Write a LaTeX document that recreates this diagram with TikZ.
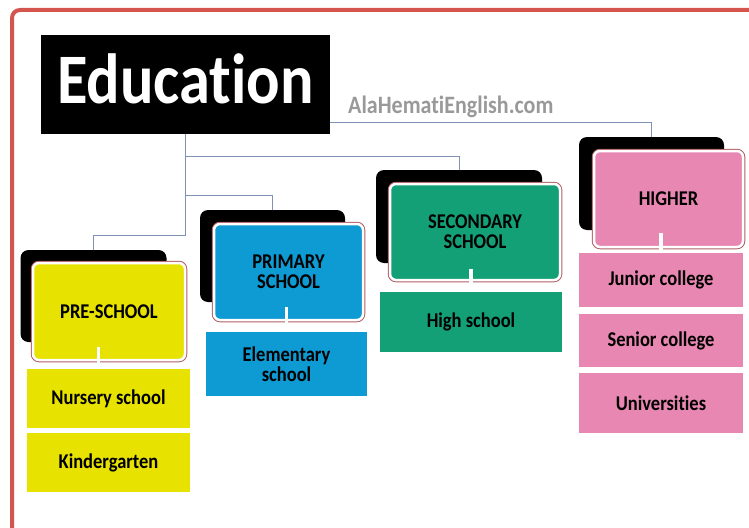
\documentclass[tikz,border=0pt]{standalone}
\usepackage{fontspec}
\setmainfont{Carlito}[FakeStretch=0.88, Ligatures=CommonOff]
\usetikzlibrary{backgrounds}
\definecolor{preyellow}{RGB}{232,226,0}
\definecolor{primblue}{RGB}{14,154,211}
\definecolor{secgreen}{RGB}{20,160,119}
\definecolor{higpink}{RGB}{232,135,177}
\definecolor{linkgray}{RGB}{128,146,180}
\definecolor{framered}{RGB}{212,84,78}
\definecolor{rimred}{RGB}{175,95,100}
\tikzset{
    back/.style={fill=black, rounded corners=8pt, inner sep=0pt},
    front/.style={rounded corners=6pt, draw=white, line width=2.5pt,
        preaction={draw=rimred, line width=4.5pt},
        font=\bfseries\fontsize{21}{20}\selectfont, align=center, inner sep=0pt},
    sub/.style={inner sep=0pt, font=\bfseries\fontsize{21}{20}\selectfont, align=center},
    link/.style={draw=linkgray, line width=0.8pt},
    stub/.style={draw=white, line width=3.5pt},
}
\begin{document}
\begin{tikzpicture}[x=1pt,y=-1pt]
    \useasboundingbox (0,0) rectangle (749,527);
    \draw[framered, line width=4pt, rounded corners=8pt] (12,530) -- (12,10) -- (752,10);

    \node[fill=black, minimum width=289pt, minimum height=99pt, inner sep=0pt, text depth=12pt,
        text=white, font=\bfseries\fontsize{71}{71}\selectfont] (edu) at (185.5,84.5) {Education};
    \node[anchor=base west, text=gray!80, inner sep=0pt, font=\bfseries\fontsize{25}{25}\selectfont]
        (site) at (348,113) {AlaHematiEnglish.com};

    % pre-school
    \node[back, minimum width=146pt, minimum height=92pt] (preback) at (93.5,296) {};
    \node[front, fill=preyellow, minimum width=152pt, minimum height=97pt] (pre) at (109,311.5) {PRE-SCHOOL};
    \node[sub, fill=preyellow, minimum width=163pt, minimum height=59pt] (nursery) at (108.5,398.5) {Nursery school};
    \node[sub, fill=preyellow, minimum width=163pt, minimum height=59pt] (kinder) at (108.5,462.5) {Kindergarten};

    % primary
    \node[back, minimum width=145pt, minimum height=92pt] (primback) at (272.5,256) {};
    \node[front, fill=primblue, minimum width=149pt, minimum height=96pt] (prim) at (288.5,272) {PRIMARY\\SCHOOL};
    \node[sub, fill=primblue, minimum width=161pt, minimum height=64pt] (elem) at (286.5,364) {Elementary\\school};

    % secondary
    \node[back, minimum width=166pt, minimum height=93pt] (secback) at (459,216.5) {};
    \node[front, fill=secgreen, minimum width=170pt, minimum height=96pt] (sec) at (475,232) {SECONDARY\\SCHOOL};
    \node[sub, fill=secgreen, minimum width=182pt, minimum height=60pt] (high) at (471,322) {High school};

    % higher
    \node[back, minimum width=145pt, minimum height=93pt] (higback) at (651.5,183.5) {};
    \node[front, fill=higpink, minimum width=149pt, minimum height=96pt] (hig) at (668.5,199) {HIGHER};
    \node[sub, fill=higpink, minimum width=164pt, minimum height=54pt] (junior) at (661,280) {Junior college};
    \node[sub, fill=higpink, minimum width=164pt, minimum height=53pt] (senior) at (661,340.5) {Senior college};
    \node[sub, fill=higpink, minimum width=164pt, minimum height=60pt] (univ) at (661,403) {Universities};

    \begin{scope}[on background layer]
        \draw[link] (edu.south) |- ([yshift=14pt]preback.north) -- (preback.north);
        \draw[link] (edu.south) |- ([yshift=14pt]primback.north) -- (primback.north);
        \draw[link] (edu.south) |- ([yshift=13pt]secback.north) -- (secback.north);
        \draw[link] (edu.south) |- ([yshift=14pt]higback.north) -- (higback.north);
    \end{scope}

    \draw[stub] ([xshift=-10pt]nursery.north) -- ++(0,-22);
    \draw[stub] (elem.north) -- ++(0,-25);
    \draw[stub] (high.north) -- ++(0,-23);
    \draw[stub] (junior.north) -- ++(0,-20);

\end{tikzpicture}
\end{document}
